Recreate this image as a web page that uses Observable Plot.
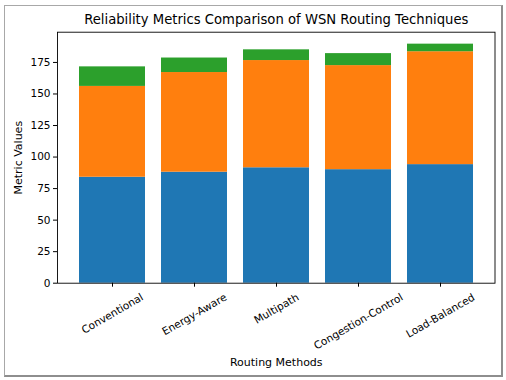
<!DOCTYPE html>
<html>
<head>
<meta charset="utf-8">
<script src="https://cdn.jsdelivr.net/npm/d3@7"></script>
<script src="https://cdn.jsdelivr.net/npm/@observablehq/plot@0.6"></script>
<style>
  html, body { margin: 0; padding: 0; background: #fff; }
  #wrap { position: relative; width: 506px; height: 380px; overflow: hidden; }
  #border { position: absolute; left: 4px; top: 5px; width: 496px; height: 369px;
            border-left: 1px solid #a8a8a8; border-top: 1px solid #a8a8a8;
            border-right: 2px solid #8e8e8e; border-bottom: 2px solid #8e8e8e; pointer-events: none; }
  svg { display: block; }
</style>
</head>
<body>
<div id="wrap"><div id="chart"></div><div id="border"></div></div>
<script>
const methods = ["Conventional", "Energy-Aware", "Multipath", "Congestion-Control", "Load-Balanced"];
const seriesNames = ["Packet Delivery Ratio", "Link Stability", "Fault Tolerance"];
const seriesA = [84, 88, 91.5, 90, 94];
const seriesB = [72, 79, 85, 82.5, 89.5];
const seriesC = [15.5, 11.5, 8.5, 9.5, 6];
const colors = ["#1f77b4", "#ff7f0e", "#2ca02c"];
const yTicks = [0, 25, 50, 75, 100, 125, 150, 175];

const seriesVals = [seriesA, seriesB, seriesC];
const rows = [];
seriesNames.forEach((s, si) => methods.forEach((m, mi) => rows.push({method: m, series: s, value: seriesVals[si][mi]})));

const totals = methods.map((m, i) => seriesA[i] + seriesB[i] + seriesC[i]);
const yMax = d3.max(totals) * 1.05;

const font = "DejaVu Sans, sans-serif";
const tickFont = 10.5;
const ctx = document.createElement("canvas").getContext("2d");
ctx.font = `${tickFont}px DejaVu Sans`;
const th = Math.PI / 6;
const labelMarks = methods.map(m => {
  const w = ctx.measureText(m).width;
  const h = tickFont * 1.15;
  const bh = w * Math.sin(th) + h * Math.cos(th);
  return Plot.text([m], {x: d => d, frameAnchor: "bottom", dy: 8 + bh / 2, rotate: -30,
    textAnchor: "middle", lineAnchor: "middle", fontSize: tickFont, fill: "#000"});
});

const chart = Plot.plot({
  width: 506, height: 380,
  marginLeft: 57, marginRight: 11.5, marginTop: 31.7, marginBottom: 97.3,
  style: {fontFamily: font, background: "transparent", color: "#000"},
  x: {domain: methods, paddingInner: 0.2, paddingOuter: 0.24, label: null},
  y: {domain: [0, yMax], label: null},
  color: {domain: seriesNames, range: colors},
  marks: [
    Plot.barY(rows, {x: "method", y: "value", fill: "series", inset: 0}),
    Plot.frame({stroke: "#000", strokeWidth: 0.9}),
    Plot.axisY({ticks: yTicks, tickSize: 4, tickPadding: 3, fontSize: tickFont, label: null, tickFormat: d3.format("d")}),
    Plot.axisX({tickSize: 4, tickFormat: () => "", label: null}),
    ...labelMarks,
    Plot.text(["Reliability Metrics Comparison of WSN Routing Techniques"], {frameAnchor: "top", dy: -12.2, fontSize: 13.2, lineAnchor: "middle", fill: "#000"}),
    Plot.text(["Routing Methods"], {frameAnchor: "bottom", dy: 79, fontSize: 11, lineAnchor: "middle", fill: "#000"}),
    Plot.text(["Metric Values"], {frameAnchor: "left", dx: -39, rotate: -90, fontSize: 11, lineAnchor: "middle", textAnchor: "middle", fill: "#000"})
  ]
});
document.getElementById("chart").appendChild(chart);
</script>
</body>
</html>
